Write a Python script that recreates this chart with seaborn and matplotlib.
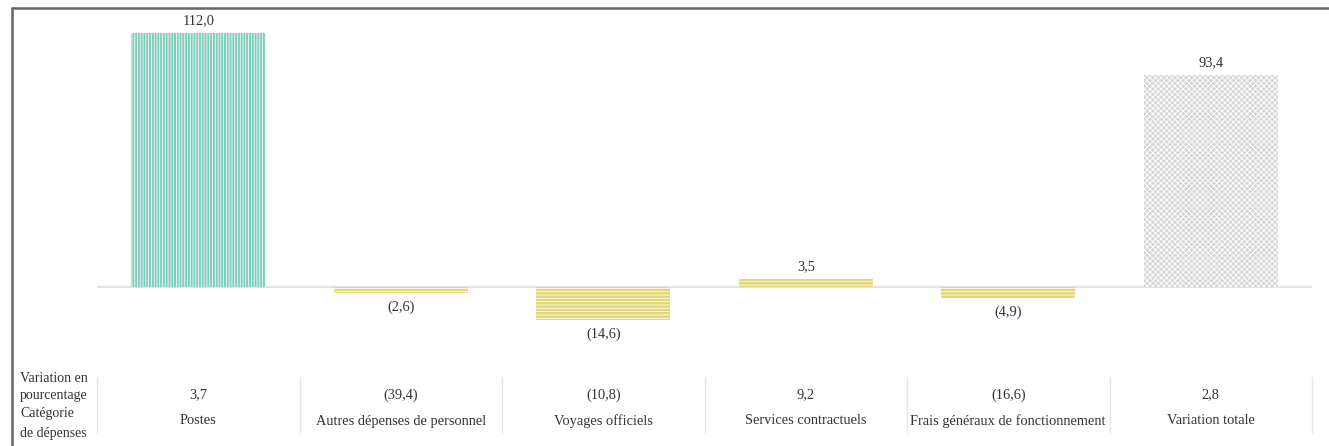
import numpy as np
import pandas as pd
import seaborn as sns
import matplotlib.pyplot as plt
import matplotlib.transforms as mtransforms
from matplotlib.lines import Line2D

# données du graphique
categories = ["Postes", "Autres dépenses de personnel", "Voyages officiels",
              "Services contractuels", "Frais généraux de fonctionnement", "Variation totale"]
variation = [112.0, -2.6, -14.6, 3.5, -4.9, 93.4]
pourcentage = [3.7, -39.4, -10.8, 9.2, -16.6, 2.8]
groupe = ["postes", "autres", "autres", "autres", "autres", "total"]

row_labels = ["Variation en", "pourcentage", "Catégorie", "de dépenses"]


def fmt(v):
    s = "{:.1f}".format(abs(v)).replace(".", ",")
    return "(" + s + ")" if v < 0 else s


df = pd.DataFrame({"cat": categories, "val": variation, "grp": groupe})

sns.set_style("white")
plt.rcParams["font.family"] = ["Liberation Serif", "DejaVu Serif"]
plt.rcParams["hatch.linewidth"] = 0.6

W, H = 1329, 446
fig = plt.figure(figsize=(W / 100, H / 100), dpi=100)
ax = fig.add_axes([97 / W, 1 - 340 / H, (1312 - 97) / W, 320 / H])

palette = {"postes": "#6fd9c1", "autres": "#f5e463", "total": "#d6d6d6"}
sns.barplot(data=df, x="cat", y="val", hue="grp", palette=palette, dodge=False,
            width=0.66, legend=False, ax=ax, linewidth=0)

hatches = {"postes": "||||||", "autres": "-----", "total": "xxxxxx"}
for p, g in zip(ax.patches, groupe):
    p.set_hatch(hatches[g])
    p.set_edgecolor("white")
    p.set_linewidth(0)

ax.set_xlim(-0.5, 5.5)
ax.set_ylim(-23.4, 117.7)
ax.axhline(0, color="#e3e3e3", linewidth=1.5, zorder=0)
for s in ax.spines.values():
    s.set_visible(False)
ax.set_xticks([])
ax.set_yticks([])
ax.set_xlabel("")
ax.set_ylabel("")

# étiquettes des barres
for i, v in enumerate(variation):
    if v >= 0:
        ax.text(i, v + 2.5, fmt(v), ha="center", va="bottom", fontsize=10.4, color="#333333")
    else:
        ax.text(i, v - 3.5, fmt(v), ha="center", va="top", fontsize=10.4, color="#333333")

# tableau du bas
trans = mtransforms.blended_transform_factory(ax.transData, fig.transFigure)
for i in range(len(categories) + 1):
    fig.add_artist(Line2D([i - 0.5, i - 0.5], [1 - 377 / H, 1 - 432 / H],
                          transform=trans, color="#e6e6e6", linewidth=1))
for i, (c, pc) in enumerate(zip(categories, pourcentage)):
    ax.text(i, 1 - 395 / H, fmt(pc), transform=trans, ha="center", va="center",
            fontsize=10.4, color="#333333")
    ax.text(i, 1 - 421 / H, c, transform=trans, ha="center", va="center",
            fontsize=10.4, color="#333333")

for lab, y in zip(row_labels, [378, 395, 413, 434]):
    fig.text(20 / W, 1 - y / H, lab, ha="left", va="center",
             fontsize=10, color="#333333")

# cadre
fig.add_artist(Line2D([12 / W, 12 / W], [0, 1 - 8 / H], transform=fig.transFigure,
                      color="#666666", linewidth=1.8))
fig.add_artist(Line2D([12 / W, 1], [1 - 8 / H, 1 - 8 / H], transform=fig.transFigure,
                      color="#666666", linewidth=1.8))

fig.savefig("out.png", dpi=100)
